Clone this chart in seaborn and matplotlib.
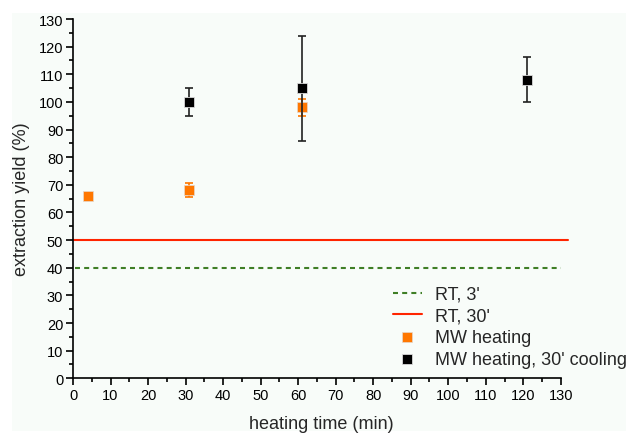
import numpy as np
import pandas as pd
import seaborn as sns
import matplotlib.pyplot as plt
from matplotlib.patches import Rectangle
from matplotlib.ticker import MultipleLocator

# MW heating (orange)
mw_time = [4, 31, 61]
mw_yield = [66, 68, 98]
mw_err = [1, 2.5, 3]

# MW heating with 30' cooling (black)
cool_time = [31, 61, 121]
cool_yield = [100, 105, 108]
cool_err = [5, 19, 8.2]

# room temperature references
rt3_x = [0.5, 130]
rt3_y = [40, 40]
rt30_x = [0, 132]
rt30_y = [50, 50]

sns.set_theme(style="ticks")
plt.rcParams['font.family'] = ['Liberation Sans', 'DejaVu Sans']

bg = "#f8fcf9"
fig = plt.figure(figsize=(6.27, 4.35), dpi=100, facecolor="white")
fig.add_artist(Rectangle((12 / 627, 3 / 435), 614 / 627, 418 / 435,
                         transform=fig.transFigure, facecolor=bg,
                         edgecolor="none", zorder=-10))
ax = fig.add_axes([73 / 627, 1 - 379.3 / 435, (570.2 - 73) / 627, (379.3 - 20) / 435])
ax.set_facecolor(bg)
ax.patch.set_alpha(0)

green = "#3f7f26"
red = "#ff2400"
orange = "#ff7700"

sns.lineplot(x=rt3_x, y=rt3_y, ax=ax, color=green, linestyle=(0, (2.4, 2)),
             linewidth=1.5, label="RT, 3'")
sns.lineplot(x=rt30_x, y=rt30_y, ax=ax, color=red, linewidth=1.5, label="RT, 30'")

ax.errorbar(mw_time, mw_yield, yerr=mw_err, fmt="none", ecolor=orange,
            elinewidth=1.2, capsize=3, capthick=1.2, zorder=3)
mw_df = pd.DataFrame({"time": mw_time, "yield": mw_yield})
sns.scatterplot(data=mw_df, x="time", y="yield", ax=ax, marker="s", s=52,
                color=orange, edgecolor="#e6d8cc", linewidth=0.5, label="MW heating", zorder=4)

ax.errorbar(cool_time, cool_yield, yerr=cool_err, fmt="none", ecolor="#222222",
            elinewidth=1.2, capsize=3, capthick=1.2, zorder=5)
cool_df = pd.DataFrame({"time": cool_time, "yield": cool_yield})
sns.scatterplot(data=cool_df, x="time", y="yield", ax=ax, marker="s", s=52,
                color="black", edgecolor="#d9d9d9", linewidth=0.6,
                label="MW heating, 30' cooling", zorder=6)

ax.set_xlim(0, 132.5)
ax.set_ylim(0, 130)
ax.xaxis.set_major_locator(MultipleLocator(10))
ax.xaxis.set_minor_locator(MultipleLocator(5))
ax.yaxis.set_major_locator(MultipleLocator(10))
ax.yaxis.set_minor_locator(MultipleLocator(5))
ax.spines["bottom"].set_bounds(0, 130)
ax.spines["left"].set_bounds(0, 130)
sns.despine(ax=ax)
for s in ("left", "bottom"):
    ax.spines[s].set_linewidth(1.2)
    ax.spines[s].set_color("black")
ax.tick_params(which="major", direction="out", length=5, width=1.2, labelsize=10.5,
               colors="black", pad=2)
ax.tick_params(which="minor", direction="out", length=3, width=1.2, colors="black")

ax.set_xlabel("heating time (min)", fontsize=13, labelpad=9)
ax.set_ylabel("extraction yield (%)", fontsize=13, labelpad=6)

handles, labels = ax.get_legend_handles_labels()
ax.legend(handles, labels, loc="upper left", frameon=False, fontsize=13,
          bbox_to_anchor=(393 / 627, 1 - 287 / 435), bbox_transform=fig.transFigure,
          borderpad=0, borderaxespad=0, handlelength=1.6, handletextpad=0.7,
          labelspacing=0.25)

fig.savefig("out.png", dpi=100, facecolor=fig.get_facecolor())
